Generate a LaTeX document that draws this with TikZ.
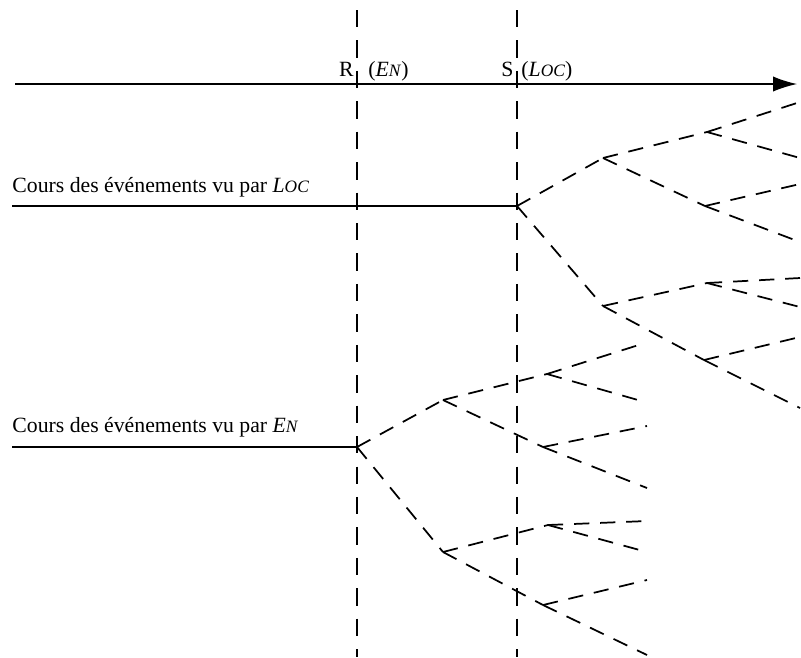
\documentclass[tikz,border=0pt]{standalone}
\usepackage{fontspec}
\setmainfont{Liberation Serif}
\usetikzlibrary{arrows.meta,positioning}

\begin{document}
\begin{tikzpicture}[x=0.46pt, y=-0.46pt, >={Latex[length=11pt,width=7pt]},
  branch/.style={line width=0.8pt, dash pattern=on 7pt off 5pt},
  instant/.style={line width=0.6pt, dash pattern=on 8pt off 6pt},
  course/.style={line width=0.6pt}]

\useasboundingbox (0,0) rectangle (801,657);

% Coordinates
\coordinate (axL) at (15,84);
\coordinate (axR) at (797,84);
\coordinate (Rtop) at (357,10);
\coordinate (Rbot) at (357,657);
\coordinate (Stop) at (517,10);
\coordinate (Sbot) at (517,657);

% Time axis
\draw[course, ->] (axL) -- (axR);

% Instants R and S
\draw[instant] (Rtop) -- (Rbot);
\draw[instant] (Stop) -- (Sbot);
\node[anchor=base east, inner sep=0pt] (labR) at (354,76) {R};
\node[anchor=base west, inner sep=0pt] (labEN) at (368,76) {(\textit{E{\footnotesize N}})};
\node[anchor=base east, inner sep=0pt] (labS) at (514,76) {S};
\node[anchor=base west, inner sep=0pt] (labLOC) at (521,76) {(\textit{L{\footnotesize OC}})};

% Tree seen by LOC
\coordinate (lstart) at (12,206);
\coordinate (l0) at (517,206);
\coordinate (l1) at (603,158);
\coordinate (l2) at (603,306);
\coordinate (l11) at (707,132);
\coordinate (l12) at (705,206);
\coordinate (l21) at (707,283);
\coordinate (l22) at (704,360);
\coordinate (l111) at (800,102);
\coordinate (l112) at (800,158);
\coordinate (l121) at (800,184);
\coordinate (l122) at (800,242);
\coordinate (l211) at (800,278);
\coordinate (l212) at (800,307);
\coordinate (l221) at (800,337);
\coordinate (l222) at (800,408);

\node[anchor=base west, inner sep=0pt] (locText) at (12,192)
  {Cours des événements vu par \textit{L{\footnotesize OC}}};
\draw[course] (lstart) -- (l0);

\draw[branch] (l0) -- (l1);
\draw[branch] (l0) -- (l2);
\draw[branch] (l1) -- (l11);
\draw[branch] (l1) -- (l12);
\draw[branch] (l2) -- (l21);
\draw[branch] (l2) -- (l22);
\draw[branch] (l11) -- (l111);
\draw[branch] (l11) -- (l112);
\draw[branch] (l12) -- (l121);
\draw[branch] (l12) -- (l122);
\draw[branch] (l21) -- (l211);
\draw[branch] (l21) -- (l212);
\draw[branch] (l22) -- (l221);
\draw[branch] (l22) -- (l222);

% Tree seen by EN
\coordinate (estart) at (12,447);
\coordinate (e0) at (357,447);
\coordinate (e1) at (443,400);
\coordinate (e2) at (443,552);
\coordinate (e11) at (547,374);
\coordinate (e12) at (543,447);
\coordinate (e21) at (548,525);
\coordinate (e22) at (543,605);
\coordinate (e111) at (645,343);
\coordinate (e112) at (645,402);
\coordinate (e121) at (647,426);
\coordinate (e122) at (647,488);
\coordinate (e211) at (647,521);
\coordinate (e212) at (647,552);
\coordinate (e221) at (647,580);
\coordinate (e222) at (647,655);

\node[anchor=base west, inner sep=0pt] (enText) at (12,432)
  {Cours des événements vu par \textit{E{\footnotesize N}}};
\draw[course] (estart) -- (e0);

\draw[branch] (e0) -- (e1);
\draw[branch] (e0) -- (e2);
\draw[branch] (e1) -- (e11);
\draw[branch] (e1) -- (e12);
\draw[branch] (e2) -- (e21);
\draw[branch] (e2) -- (e22);
\draw[branch] (e11) -- (e111);
\draw[branch] (e11) -- (e112);
\draw[branch] (e12) -- (e121);
\draw[branch] (e12) -- (e122);
\draw[branch] (e21) -- (e211);
\draw[branch] (e21) -- (e212);
\draw[branch] (e22) -- (e221);
\draw[branch] (e22) -- (e222);

\end{tikzpicture}
\end{document}
